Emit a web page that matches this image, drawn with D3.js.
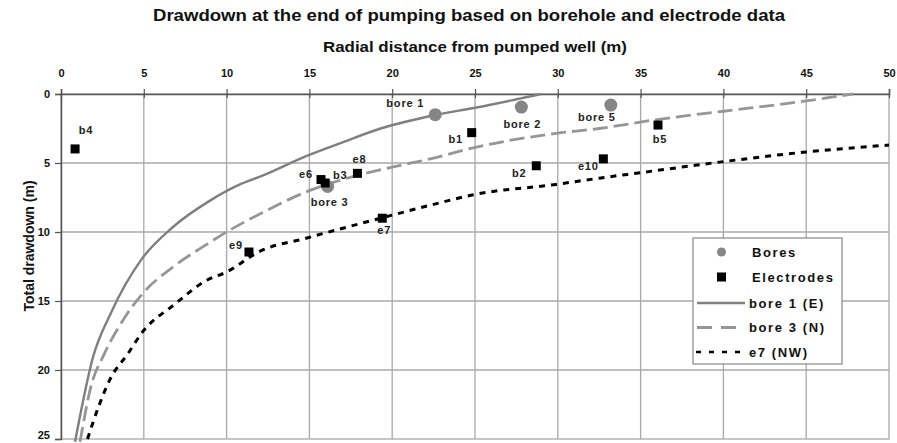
<!DOCTYPE html>
<html><head><meta charset="utf-8">
<script src="https://cdn.jsdelivr.net/npm/d3@7/dist/d3.min.js"></script>
<style>
html,body{margin:0;padding:0;background:#fff;}
svg{display:block;}
</style></head>
<body><svg id="chart" width="897" height="443"></svg>
<script>
// ---- data ----
const titleText = "Drawdown at the end of pumping based on borehole and electrode data";
const xAxisTitle = "Radial distance from pumped well (m)";
const yAxisTitle = "Total drawdown (m)";
const xTicks = [0,5,10,15,20,25,30,35,40,45,50];
const yTicks = [0,5,10,15,20,25];

const boreNames = ["bore 1","bore 2","bore 5","bore 3"];
const boreX = [22.6, 27.8, 33.2, 16.1];
const boreY = [1.5, 0.95, 0.8, 6.7];

const electrodeNames = ["b4","b1","b2","e10","b5","e6","b3","e8","e7","e9"];
const electrodeX = [0.85, 24.8, 28.7, 32.75, 36.05, 15.7, 15.95, 17.9, 19.4, 11.35];
const electrodeY = [3.98, 2.8, 5.2, 4.7, 2.25, 6.2, 6.45, 5.75, 9.0, 11.45];

const bore1X = [0.85, 1.95, 3.0, 4.85, 6.8, 8.9, 10.9, 12.2, 14.8, 17.0, 19.3, 22.7, 25.0, 29.0];
const bore1Y = [25.2, 19.0, 15.9, 12.0, 9.6, 7.8, 6.5, 5.9, 4.5, 3.5, 2.5, 1.5, 1.0, 0.0];

const bore3X = [1.15, 1.85, 2.55, 3.9, 4.9, 6.8, 8.8, 10.0, 12.0, 15.0, 17.0, 20.0, 22.3, 24.9, 29.9, 32.5, 36.0, 40.0, 45.0, 47.8];
const bore3Y = [25.2, 21.0, 19.0, 16.1, 14.5, 12.5, 10.9, 10.0, 8.7, 7.0, 6.2, 5.3, 4.7, 3.9, 2.85, 2.5, 1.85, 1.25, 0.5, 0.0];

const e7X = [1.6, 2.35, 2.95, 4.05, 4.95, 6.8, 8.8, 10.0, 12.0, 14.8, 19.3, 22.5, 24.9, 29.9, 32.5, 35.0, 40.0, 45.0, 50.0];
const e7Y = [25.0, 22.4, 20.7, 18.8, 17.2, 15.3, 13.5, 12.9, 11.4, 10.45, 9.0, 8.0, 7.3, 6.55, 6.1, 5.7, 4.9, 4.2, 3.7];

const legendLabels = ["Bores","Electrodes","bore 1 (E)","bore 3 (N)","e7 (NW)"];

// label offsets (pixels) for point annotations
const labelOffset = {
  "bore 1":[-30,-12], "bore 2":[1,17], "bore 5":[-14,12], "bore 3":[2,16],
  "b4":[11,-19], "b1":[-16,6], "b2":[-17,7], "e10":[-15,7], "b5":[2,14],
  "e6":[-15,-6], "b3":[15,-8], "e8":[2,-14], "e7":[2,12], "e9":[-13,-7]
};

// ---- drawing ----
const svg = d3.select("#chart");
const L = 61, R = 889, T = 94, B = 439;
const x = d3.scaleLinear().domain([0,50]).range([L,R]);
const y = d3.scaleLinear().domain([0,25]).range([T,B]);
const narrow = "'Liberation Sans Narrow','Arial Narrow','Liberation Sans',Arial,sans-serif";
const wide = "'Liberation Sans',Arial,sans-serif";

// title
svg.append("text").attr("x",469).attr("y",15).attr("text-anchor","middle")
  .attr("dominant-baseline","central")
  .attr("font-family",narrow).attr("font-weight","bold").attr("font-size",16)
  .attr("fill","#111").attr("textLength",632).attr("lengthAdjust","spacingAndGlyphs")
  .text(titleText);
svg.append("text").attr("x",475).attr("y",47).attr("text-anchor","middle")
  .attr("dominant-baseline","central")
  .attr("font-family",narrow).attr("font-weight","bold").attr("font-size",14)
  .attr("fill","#111").attr("textLength",304).attr("lengthAdjust","spacingAndGlyphs")
  .text(xAxisTitle);

// grid
const grid = svg.append("g");
grid.selectAll("line.v").data(xTicks.filter(d=>d>0&&d<50)).join("line")
  .attr("x1",d=>x(d)).attr("x2",d=>x(d)).attr("y1",T).attr("y2",B)
  .attr("stroke","#a8a8a8").attr("stroke-width",1.3);
grid.selectAll("line.h").data(yTicks.filter(d=>d>0&&d<25)).join("line")
  .attr("x1",L).attr("x2",R).attr("y1",d=>y(d)).attr("y2",d=>y(d))
  .attr("stroke","#a8a8a8").attr("stroke-width",1.3);
svg.append("rect").attr("x",L).attr("y",T).attr("width",R-L).attr("height",B-T)
  .attr("fill","none").attr("stroke","#a8a8a8").attr("stroke-width",1.3);

// top axis
const xAxis = d3.axisTop(x).tickValues(xTicks).tickSize(5).tickPadding(12).tickFormat(d3.format("d"));
const gx = svg.append("g").attr("transform",`translate(0,${T})`).call(xAxis);
gx.select(".domain").attr("stroke","#555").attr("stroke-width",1.5);
gx.selectAll(".tick line").attr("stroke","#555").attr("stroke-width",1.2).attr("y2",-5).attr("y1",4);
gx.selectAll(".tick text").attr("font-family",narrow).attr("font-weight","bold")
  .attr("font-size",11).attr("fill","#111");

// left axis
const yAxis = d3.axisLeft(y).tickValues(yTicks).tickSize(6).tickPadding(5).tickFormat(d3.format("d"));
const gy = svg.append("g").attr("transform",`translate(${L},0)`).call(yAxis);
gy.select(".domain").attr("stroke","#555").attr("stroke-width",1.5);
gy.selectAll(".tick line").attr("stroke","#555").attr("stroke-width",1.2);
gy.selectAll(".tick text").attr("font-family",narrow).attr("font-weight","bold")
  .attr("font-size",11).attr("fill","#111")
  .attr("dy",d=> d===25 ? "-0.05em" : "0.32em");

svg.append("text").attr("transform","translate(29,246) rotate(-90)")
  .attr("text-anchor","middle").attr("dominant-baseline","central")
  .attr("font-family",wide).attr("font-weight","bold").attr("font-size",14)
  .attr("fill","#111").text(yAxisTitle);

// lines
const line = d3.line().x(d=>x(d[0])).y(d=>y(d[1])).curve(d3.curveMonotoneX);
const curves = [
  {xs:bore1X, ys:bore1Y, color:"#7f7f7f", width:2.4, dash:null},
  {xs:bore3X, ys:bore3Y, color:"#969696", width:2.8, dash:"15,6"},
  {xs:e7X, ys:e7Y, color:"#000", width:3, dash:"6,6"}
];
curves.forEach(c=>{
  const pts = c.xs.map((v,i)=>[v,c.ys[i]]);
  svg.append("path").datum(pts).attr("d",line).attr("fill","none")
    .attr("stroke",c.color).attr("stroke-width",c.width)
    .attr("stroke-dasharray",c.dash);
});

// bores
const bores = boreNames.map((n,i)=>({n, x:boreX[i], y:boreY[i]}));
svg.selectAll("circle.bore").data(bores).join("circle")
  .attr("cx",d=>x(d.x)).attr("cy",d=>y(d.y)).attr("r",6.5).attr("fill","#858585");

// electrodes
const elec = electrodeNames.map((n,i)=>({n, x:electrodeX[i], y:electrodeY[i]}));
svg.selectAll("rect.el").data(elec).join("rect")
  .attr("x",d=>x(d.x)-4.5).attr("y",d=>y(d.y)-4.5).attr("width",9).attr("height",9)
  .attr("fill","#000");

// point labels
svg.selectAll("text.pl").data(bores.concat(elec)).join("text")
  .attr("x",d=>x(d.x)+labelOffset[d.n][0]).attr("y",d=>y(d.y)+labelOffset[d.n][1])
  .attr("text-anchor","middle").attr("dominant-baseline","central")
  .attr("font-family",wide).attr("font-weight","bold").attr("font-size",11)
  .attr("letter-spacing",0.8).attr("fill","#222").text(d=>d.n);

// legend
const lg = svg.append("g");
lg.append("rect").attr("x",693).attr("y",238).attr("width",149).attr("height",126)
  .attr("fill","#fff").attr("stroke","#888").attr("stroke-width",1.2);
const rowY = [252,277,303,327.5,352];
const textX = 752;
lg.append("circle").attr("cx",721.5).attr("cy",rowY[0]).attr("r",4.5).attr("fill","#858585");
lg.append("rect").attr("x",717).attr("y",rowY[1]-4.5).attr("width",9).attr("height",9).attr("fill","#000");
lg.append("line").attr("x1",697).attr("x2",745).attr("y1",rowY[2]).attr("y2",rowY[2])
  .attr("stroke","#7f7f7f").attr("stroke-width",2.4);
lg.append("line").attr("x1",697).attr("x2",745).attr("y1",rowY[3]).attr("y2",rowY[3])
  .attr("stroke","#969696").attr("stroke-width",2.8).attr("stroke-dasharray","15,9");
lg.append("line").attr("x1",696).attr("x2",745).attr("y1",rowY[4]).attr("y2",rowY[4])
  .attr("stroke","#000").attr("stroke-width",2.6).attr("stroke-dasharray","5,8");
lg.selectAll("text").data(legendLabels).join("text")
  .attr("x",(d,i)=> i>=2 ? 749 : textX).attr("y",(d,i)=>rowY[i])
  .attr("dominant-baseline","central")
  .attr("font-family",wide).attr("font-weight","bold").attr("font-size",13)
  .attr("letter-spacing",1.6).attr("fill","#111").text(d=>d);
</script>
</body></html>
